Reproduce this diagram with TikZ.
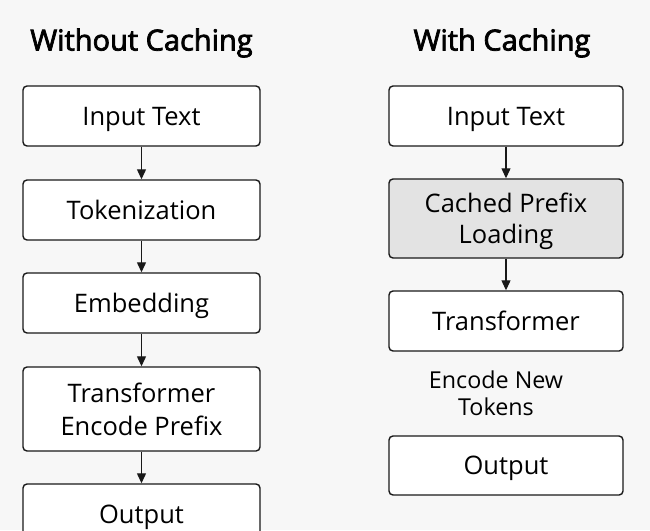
\documentclass[tikz,border=0pt]{standalone}
\usepackage{fontspec}
\setmainfont{Open Sans}
\newfontfamily\titlefont[FakeBold=2.6]{Open Sans}
\usetikzlibrary{arrows.meta}
\begin{document}
\begin{tikzpicture}[x=1pt,y=-1pt,
  box/.style={draw=black!90,line width=1.4pt,rounded corners=4pt,fill=white,
    align=center,font=\fontsize{25.5}{31}\selectfont,inner sep=0pt,text depth=0pt},
  lbox/.style={box,minimum width=237pt},
  rbox/.style={box,minimum width=234pt},
  cached/.style={fill=black!11},
  title/.style={font=\titlefont\fontsize{29}{34}\selectfont},
  plain/.style={font=\fontsize{23.3}{27}\selectfont,align=center,inner sep=0pt},
  arr/.style={-{Triangle[length=10pt,width=9pt]},line width=1.2pt,draw=black!90}]
\fill[black!3] (0,0) rectangle (650,530);
\useasboundingbox (0,0) rectangle (650,530);
\node[title] (t1) at (141.5,43) {Without Caching};
\node[title] (t2) at (502,43) {With Caching};
% left
\node[lbox,minimum height=60pt] (l1) at (141.5,116) {Input Text};
\node[lbox,minimum height=60pt] (l2) at (141.5,210) {Tokenization};
\node[lbox,minimum height=60pt] (l3) at (141.5,303) {Embedding};
\node[lbox,minimum height=84pt,font=\fontsize{25.5}{33}\selectfont] (l4) at (141.5,409) {Transformer\\Encode Prefix};
\node[lbox,minimum height=60pt] (l5) at (141.5,514) {Output};
\draw[arr] (l1) -- (l2);
\draw[arr] (l2) -- (l3);
\draw[arr] (l3) -- (l4);
\draw[arr] (l4) -- (l5);
% right
\node[rbox,minimum height=60pt] (r1) at (506,116) {Input Text};
\node[rbox,cached,minimum height=79pt] (r2) at (506,218.5) {Cached Prefix\\Loading};
\node[rbox,minimum height=60pt] (r3) at (506,321) {Transformer};
\node[plain] (r4) at (496,393) {Encode New\\Tokens};
\node[rbox,minimum height=59pt] (r5) at (506,465.5) {Output};
\draw[arr] (r1) -- (r2);
\draw[arr] (r2) -- (r3);
\end{tikzpicture}
\end{document}
